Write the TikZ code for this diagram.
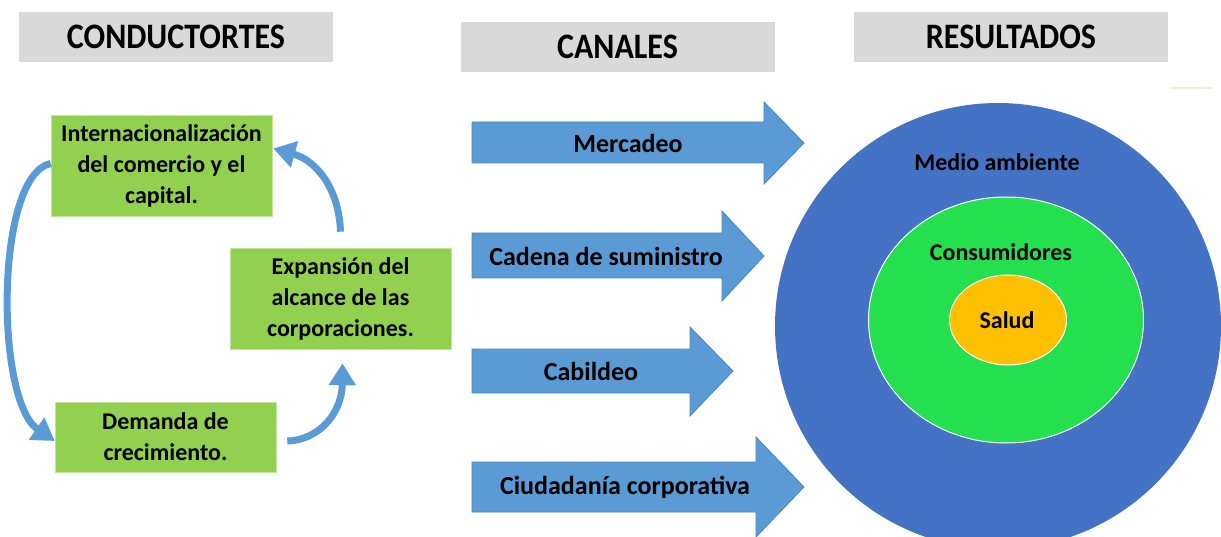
\documentclass[tikz,border=0pt]{standalone}
\usepackage{fontspec}
\setmainfont{Carlito}
\usetikzlibrary{arrows.meta,shapes.geometric}
\definecolor{hdr}{HTML}{D9D9D9}
\definecolor{grn}{HTML}{92D050}
\definecolor{arr}{HTML}{5B9BD5}
\definecolor{arrline}{HTML}{4A86C0}
\definecolor{outerc}{HTML}{4472C4}
\definecolor{midc}{HTML}{24E04E}
\definecolor{innerc}{HTML}{FFC000}
\definecolor{faint}{HTML}{FDEBD0}
\newcommand{\hdrtext}[1]{\scalebox{1}[1.12]{#1}}
\begin{document}
\begin{tikzpicture}[x=1pt,y=-1pt,
  hdrbox/.style={fill=hdr, minimum width=314pt, minimum height=50pt, inner sep=0pt,
    font=\fontsize{32}{36}\selectfont\bfseries},
  drvbox/.style={fill=grn, draw=grn!55!white, line width=0.6pt, minimum width=221pt,
    inner sep=0pt, align=center, font=\fontsize{24}{31}\selectfont\bfseries},
  flow/.style={draw=arr, line width=7pt, -{Triangle[width=26pt,length=22pt]}},
  blockarrow/.style={fill=arr, draw=arrline, line width=0.8pt},
  chtext/.style={inner sep=0pt, font=\fontsize{26}{31}\selectfont\bfseries},
  ringtext/.style={inner sep=0pt, font=\fontsize{24}{29}\selectfont\bfseries}
]
\useasboundingbox (0,0) rectangle (1221,537);

% headers
\node[hdrbox] (h1) at (176,37) {\hdrtext{CONDUCTORTES}};
\node[hdrbox] (h2) at (617.5,47) {\hdrtext{CANALES}};
\node[hdrbox] (h3) at (1011,37) {\hdrtext{RESULTADOS}};
\draw[faint, line width=2pt] (1170,88) -- (1212,88);

% drivers
\node[drvbox, minimum height=101pt] (d1) at (161.5,165.5)
  {Internacionalización\\del comercio y el\\capital.};
\node[drvbox, minimum height=101pt] (d2) at (340.5,298.5)
  {Expansión del\\alcance de las\\corporaciones.};
\node[drvbox, minimum height=70pt] (d3) at (165.5,437)
  {Demanda de\\crecimiento.};

% cycle arrows
\draw[flow] ([yshift=2pt]d1.west) .. controls (-5,175) and (-5,400) .. ([yshift=-4pt]d3.west);
\draw[flow] ([xshift=11pt,yshift=-4pt]d3.east) .. controls (320,440) and (342,412) .. ([xshift=2pt,yshift=-14pt]d2.south);
\draw[flow] ([yshift=16pt]d2.north) .. controls (339,187) and (315,160) .. ([xshift=1pt,yshift=17pt]d1.east);

% channel block arrows
\draw[blockarrow] (472,122) -- (764,122) -- (764,102) -- (804,143) -- (764,184) -- (764,163) -- (472,163) -- cycle;
\draw[blockarrow] (472,233) -- (722,233) -- (722,211) -- (764,256) -- (722,301) -- (722,278) -- (472,278) -- cycle;
\draw[blockarrow] (472,349) -- (690,349) -- (690,327) -- (733,371) -- (690,416) -- (690,393) -- (472,393) -- cycle;
\draw[blockarrow] (472,462) -- (756,462) -- (756,437) -- (804,487) -- (756,537) -- (756,512) -- (472,512) -- cycle;
\node[chtext] (c1) at (628,143) {Mercadeo};
\node[chtext] (c2) at (606,256) {Cadena de suministro};
\node[chtext] (c3) at (591,371) {Cabildeo};
\node[chtext] (c4) at (625,487) {Ciudadanía corporativa};

% results rings
\node[circle, fill=outerc, minimum size=446pt, inner sep=0pt] (env) at (998,326) {};
\node[ellipse, fill=midc, draw=white, line width=1pt, minimum width=275pt, minimum height=246pt, inner sep=0pt] (cons) at (1006,320) {};
\node[ellipse, fill=innerc, draw=white, line width=1pt, minimum width=117pt, minimum height=90pt, inner sep=0pt] (sal) at (1008,320) {};
\node[ringtext] (t1) at (997,162) {Medio ambiente};
\node[ringtext] (t2) at (1001,252) {Consumidores};
\node[ringtext] (t3) at (1007,320) {Salud};
\end{tikzpicture}
\end{document}
